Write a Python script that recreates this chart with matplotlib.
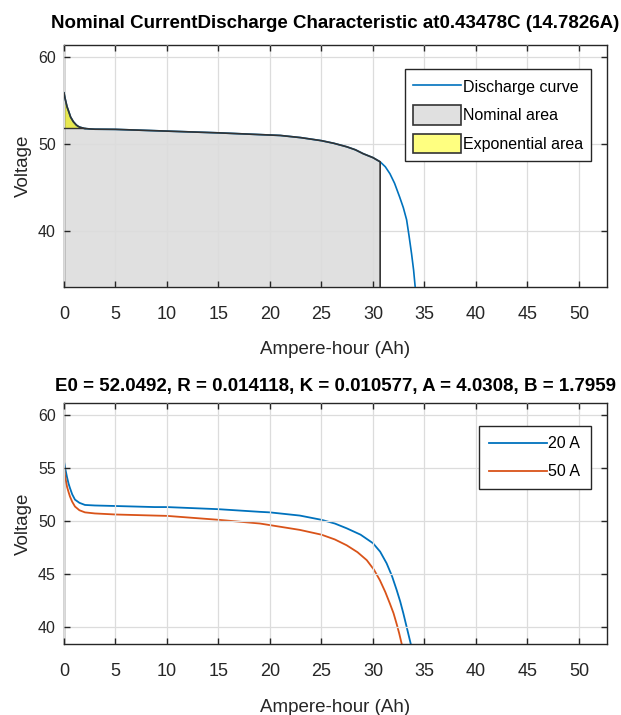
import matplotlib
matplotlib.use("Agg")
import matplotlib.pyplot as plt
from matplotlib.patches import Patch
from matplotlib.lines import Line2D

plt.rcParams["font.family"] = ["Liberation Sans Narrow", "Liberation Sans", "DejaVu Sans"]

BLUE = "#0072BD"
ORANGE = "#D95319"
TXT = "#262626"

# nominal-current discharge curve (Ah, V)
nom_ah = [0.0, 0.1, 0.2, 0.3, 0.42, 0.55, 0.65, 0.78, 0.9, 1.05, 1.2, 1.38, 1.55, 2.0, 2.5,
          3.0, 5.0, 10.0, 15.0, 20.0, 21.0, 23.0, 25.0, 26.2, 27.45, 28.3, 29.06, 30.0,
          30.7, 31.2, 31.65, 32.1, 32.6, 32.95, 33.27, 33.5, 33.75, 33.95, 34.1]
nom_v = [55.9, 55.3, 54.8, 54.3, 53.9, 53.45, 53.1, 52.85, 52.6, 52.4, 52.2, 52.05, 51.95,
         51.8, 51.75, 51.72, 51.7, 51.5, 51.3, 51.05, 51.0, 50.75, 50.4, 50.1, 49.7, 49.35,
         48.9, 48.45, 47.97, 47.4, 46.6, 45.5, 43.9, 42.7, 41.3, 39.5, 37.4, 35.5, 33.6]
nominal_end = 30.7
exp_end = 1.55
exp_level = 51.84

# curves at 20 A and 50 A
ah_20 = [0.0, 0.15, 0.3, 0.45, 0.58, 0.8, 1.07, 1.5, 2.04, 3.0, 5.0, 8.8, 10.0, 15.0, 19.03,
         20.0, 22.9, 25.0, 26.3, 27.45, 28.8, 30.0, 30.7, 31.33, 31.85, 32.3, 32.65, 32.95,
         33.3, 33.66]
v_20 = [55.6, 54.8, 54.1, 53.5, 53.1, 52.5, 52.0, 51.7, 51.5, 51.45, 51.4, 51.3, 51.3, 51.1,
        50.85, 50.8, 50.5, 50.1, 49.75, 49.3, 48.7, 47.9, 47.1, 46.0, 44.8, 43.5, 42.4, 41.3,
        39.9, 38.46]
ah_50 = [0.0, 0.15, 0.3, 0.45, 0.58, 0.8, 1.07, 1.5, 2.04, 3.0, 5.0, 8.8, 10.0, 15.0, 19.03,
         20.0, 22.9, 25.0, 26.3, 27.45, 28.5, 29.4, 30.1, 30.68, 31.2, 31.65, 32.0, 32.3,
         32.55, 32.78]
v_50 = [55.0, 54.0, 53.2, 52.7, 52.3, 51.8, 51.35, 51.0, 50.8, 50.7, 50.6, 50.5, 50.47, 50.1,
        49.75, 49.6, 49.15, 48.7, 48.25, 47.7, 47.05, 46.3, 45.4, 44.4, 43.3, 42.2, 41.3, 40.3,
        39.4, 38.46]

xticks = list(range(0, 55, 5))

fig = plt.figure(figsize=(6.21, 7.15), dpi=100)
ax1 = fig.add_axes([0.103, 0.599, 0.874, 0.338])
ax2 = fig.add_axes([0.103, 0.0993, 0.874, 0.337])


def style(ax, yticks, ylim):
    ax.set_xlim(0, 52.7)
    ax.set_ylim(*ylim)
    ax.set_xticks(xticks)
    ax.set_yticks(yticks)
    ax.grid(True, color="#dcdcdc", linewidth=0.9)
    ax.set_axisbelow(False)
    ax.tick_params(direction="in", top=True, right=True, length=4, width=1, colors=TXT)
    ax.tick_params(axis="x", labelsize=13, pad=14)
    ax.tick_params(axis="y", labelsize=11.5, pad=6)
    for s in ax.spines.values():
        s.set_color("#262626")
        s.set_linewidth(1.0)
    ax.set_xlabel("Ampere-hour (Ah)", fontsize=13.5, color=TXT, labelpad=13)
    ax.set_ylabel("Voltage", fontsize=13.5, color=TXT, labelpad=4)


# top panel
nx = [a for a in nom_ah if a <= nominal_end]
ny = nom_v[:len(nx)]
ax1.fill_between(nx, ny, 33.6, facecolor="#e0e0e0", edgecolor="none", zorder=1)
ax1.plot(nx + [nominal_end], ny + [33.6], color="#333333", lw=1.2, zorder=3)
ex = [a for a in nom_ah if a <= exp_end]
ey = nom_v[:len(ex)]
ax1.fill_between(ex, ey, exp_level, facecolor="#e8e850", edgecolor="none", zorder=1.5)
ax1.plot([0, 2.0], [exp_level, exp_level], color="#333333", lw=1.0, zorder=3)
ax1.plot(nom_ah, nom_v, color=BLUE, lw=1.2, zorder=2.8)
style(ax1, [40, 50, 60], (33.6, 61.4))
ax1.set_title("Nominal CurrentDischarge Characteristic at0.43478C (14.7826A)",
              fontsize=13.5, fontweight="bold", color="black", pad=12)
handles = [Line2D([], [], color=BLUE, lw=1.2),
           Patch(facecolor="#e0e0e0", edgecolor="#333333", lw=1.2),
           Patch(facecolor="#ffff80", edgecolor="#333333", lw=1.2)]
leg = ax1.legend(handles, ["Discharge curve", "Nominal area", "Exponential area"],
                 loc="upper right", bbox_to_anchor=(0.9705, 0.90), fontsize=11.5,
                 fancybox=False, framealpha=1, edgecolor="#262626", handlelength=3.0,
                 handletextpad=0.1, borderpad=0.5, labelspacing=0.55,
                 handleheight=1.5, borderaxespad=0)
leg.get_frame().set_linewidth(1.0)

# bottom panel
ax2.plot(ah_20, v_20, color=BLUE, lw=1.3, label="20 A")
ax2.plot(ah_50, v_50, color=ORANGE, lw=1.3, label="50 A")
style(ax2, [40, 45, 50, 55, 60], (38.4, 61.1))
ax2.set_title("E0 = 52.0492, R = 0.014118, K = 0.010577, A = 4.0308, B = 1.7959",
              fontsize=13.5, fontweight="bold", color="black", pad=9)
leg2 = ax2.legend(loc="upper right", bbox_to_anchor=(0.9705, 0.905), fontsize=11.5,
                  fancybox=False, framealpha=1, edgecolor="#262626", handlelength=3.6,
                  handletextpad=0.1, borderpad=0.65, labelspacing=0.8, borderaxespad=0)
leg2.get_frame().set_linewidth(1.0)

fig.savefig("out.png", dpi=100, facecolor="white")
